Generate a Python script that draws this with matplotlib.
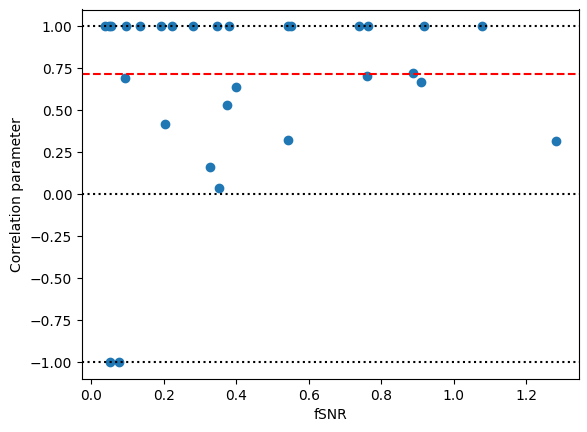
import numpy as np
import matplotlib
matplotlib.use("Agg")
import matplotlib.pyplot as plt

# fSNR and correlation parameter
fsnr = [0.037, 0.048, 0.054, 0.097, 0.136, 0.193, 0.224, 0.282, 0.348, 0.379,
        0.542, 0.551, 0.740, 0.763, 0.917, 1.077,
        0.094, 0.205, 0.399, 0.374, 0.542, 0.327, 0.352,
        0.760, 0.887, 0.911, 1.282,
        0.052, 0.078]
corr = [1.0, 1.0, 1.0, 1.0, 1.0, 1.0, 1.0, 1.0, 1.0, 1.0,
        1.0, 1.0, 1.0, 1.0, 1.0, 1.0,
        0.695, 0.421, 0.641, 0.534, 0.321, 0.165, 0.036,
        0.702, 0.720, 0.671, 0.315,
        -1.0, -1.0]
ref_levels = [1.0, 0.0, -1.0]
mean_corr = 0.716

fig = plt.figure(figsize=(5.87, 4.32), dpi=100)
fig.subplots_adjust(left=82/587, right=578.5/587, top=1 - 9.5/432, bottom=1 - 379/432)
ax = fig.add_subplot(111)

ax.scatter(fsnr, corr)
for lvl in ref_levels:
    ax.axhline(lvl, color="k", linestyle=":")
ax.axhline(mean_corr, color="r", linestyle="--")

ax.set_xlabel("fSNR")
ax.set_ylabel("Correlation parameter")

fig.savefig("out.png", dpi=100)
